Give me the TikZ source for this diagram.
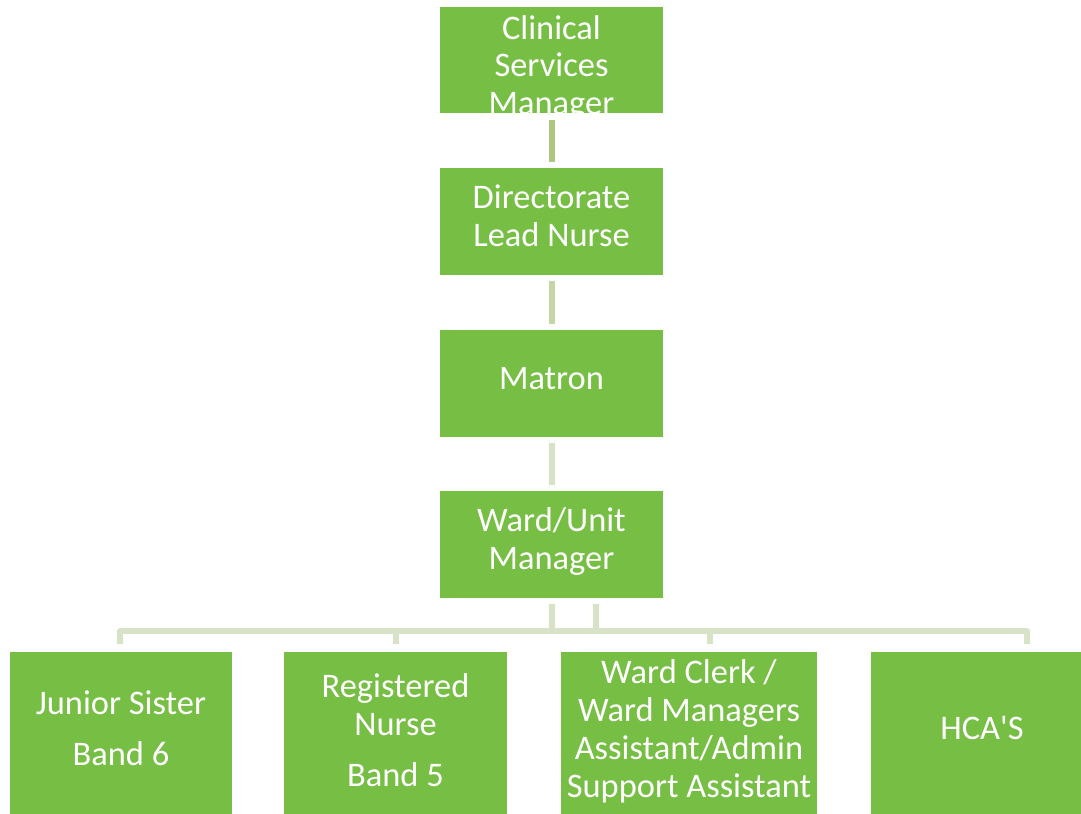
\documentclass[tikz,border=0pt]{standalone}
\usepackage{fontspec}
\setmainfont{Carlito}
\usetikzlibrary{positioning}
\definecolor{boxgreen}{RGB}{118,190,68}
\definecolor{linkdark}{RGB}{174,199,127}
\definecolor{linkmid}{RGB}{196,214,165}
\definecolor{linklight}{RGB}{215,226,199}
\tikzset{
    role/.style={
           rectangle,
           fill=boxgreen,
           draw=none,
           minimum width=5.55cm,
           minimum height=2.68cm,
           inner sep=0pt,
           },
    staff/.style={role, minimum height=4.05cm},
    roletext/.style={
           text=white,
           inner sep=0pt,
           align=center,
           font=\fontsize{24.5}{27}\selectfont,
           },
    link/.style={line width=0.15cm, linklight, line join=round},
}

\begin{document}
\begin{tikzpicture}[x=0.025cm, y=-0.025cm]
  \useasboundingbox (0,0) rectangle (1081,814);
  % top of the chain
  \node[role, minimum height=2.65cm] (csm) at (551.5,60) {};
  \begin{scope}
    \clip (csm.south west) rectangle (csm.north east);
    \node[roletext] (csmtext) at (551.5,68) {Clinical\\Services\\Manager};
  \end{scope}
  \node[role] (dln)    at (551.5,221.5) {};
  \node[role] (matron) at (551.5,383.5) {};
  \node[role] (ward)   at (551.5,544.5) {};
  \node[roletext] (dlntext)    at ([yshift=0.15cm]dln)    {Directorate\\Lead Nurse};
  \node[roletext] (matrontext) at ([yshift=0.13cm]matron) {Matron};
  \node[roletext] (wardtext)   at ([yshift=0.08cm]ward)   {Ward/Unit\\Manager};
  % staff row
  \node[staff] (js)  at (121,733.5) {};
  \node[staff] (rn)  at (395.5,733.5) {};
  \node[staff, minimum width=6.4cm] (wc) at (689,733.5) {};
  \node[staff, minimum width=5.25cm] (hca) at (976,733.5) {};
  \node[roletext] (jstext)  at ([yshift=0.13cm]js)  {Junior Sister\\[0.33cm] Band 6};
  \node[roletext] (rntext)  at ([yshift=0.08cm]rn)  {Registered\\Nurse\\[0.33cm] Band 5};
  \node[roletext] (wctext)  at ([yshift=0.05cm]wc)
        {Ward Clerk /\\Ward Managers\\Assistant/Admin\\Support Assistant};
  \node[roletext] (hcatext) at ([xshift=0.15cm,yshift=0.15cm]hca) {HCA\textquotesingle S};
  % connectors
  \draw[link, linkdark, shorten <=0.18cm, shorten >=0.15cm] (csm) -- (dln);
  \draw[link, linkmid, shorten <=0.15cm, shorten >=0.15cm] (dln) -- (matron);
  \draw[link, shorten <=0.15cm, shorten >=0.15cm] (matron) -- (ward);
  \coordinate (bus1) at (120,631);
  \coordinate (bus2) at (396,631);
  \coordinate (bus3) at (710,631);
  \coordinate (bus4) at (1027,631);
  \draw[link, shorten <=0.15cm] (ward.south) -- (ward.south |- bus1);
  \draw[link, shorten <=0.15cm] ([xshift=1.12cm]ward.south) -- ([xshift=1.12cm]ward.south |- bus1);
  \draw[link, shorten <=0.2cm, shorten >=0.2cm] (bus1 |- js.north) -- (bus1) -- (bus4) -- (bus4 |- hca.north);
  \draw[link, shorten >=0.2cm] (bus2) -- (bus2 |- rn.north);
  \draw[link, shorten >=0.2cm] (bus3) -- (bus3 |- wc.north);
\end{tikzpicture}
\end{document}
